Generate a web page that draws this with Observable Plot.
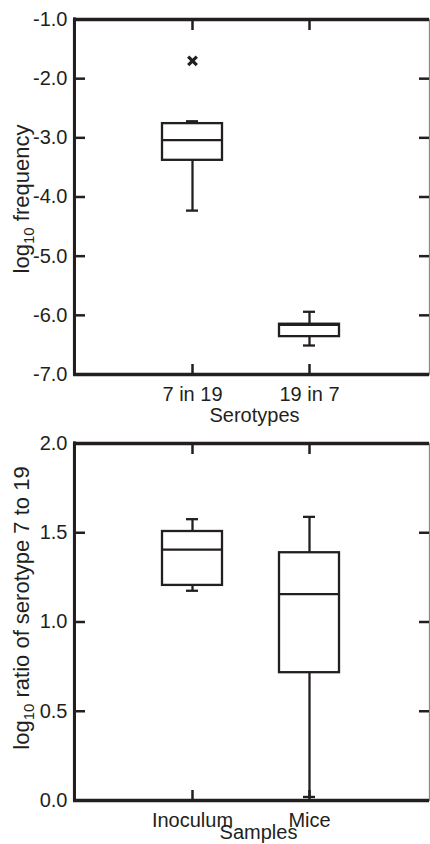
<!DOCTYPE html>
<html><head><meta charset="utf-8">
<script src="https://cdn.jsdelivr.net/npm/d3@7"></script>
<script src="https://cdn.jsdelivr.net/npm/@observablehq/plot@0.6"></script>
<style>
html,body{margin:0;padding:0;background:#fff;}
#wrap{position:relative;width:430px;height:844px;overflow:hidden;background:#fff;}
#wrap svg{position:absolute;left:0;}
</style></head><body><div id="wrap"></div>
<script>
// ---- Panel A: serotypes ----
const serotypes = ["7 in 19", "19 in 7"];
const serWhiskerLow = [-4.23, -6.51];
const serQ1 = [-3.38, -6.36];
const serMedian = [-3.04, -6.16];
const serQ3 = [-2.76, -6.15];
const serWhiskerHigh = [-2.72, -5.94];
const serOutlierCats = ["7 in 19"];
const serOutlierValues = [-1.70];
const serYDomain = [-7, -1];
const serYTicks = [-1, -2, -3, -4, -5, -6, -7];

// ---- Panel B: samples ----
const samples = ["Inoculum", "Mice"];
const smpWhiskerLow = [1.175, 0.02];
const smpQ1 = [1.205, 0.716];
const smpMedian = [1.405, 1.156];
const smpQ3 = [1.507, 1.388];
const smpWhiskerHigh = [1.576, 1.589];
const smpYDomain = [0, 2];
const smpYTicks = [0, 0.5, 1, 1.5, 2];

const INK = "#231f20";
const FONT = "'Liberation Sans', Arial, Helvetica, sans-serif";

function boxPanel(o) {
  const rows = o.cats.map((c, i) => ({cat: c, lo: o.lo[i], q1: o.q1[i], med: o.med[i], q3: o.q3[i], hi: o.hi[i]}));
  const outs = (o.outCats || []).map((c, i) => ({cat: c, v: o.outVals[i]}));
  const W = 430, ml = 73, mr = 1;
  const fw = W - ml - mr;
  const fh = o.height - o.marginTop - o.marginBottom;
  const lw = 2.3;
  const svg = Plot.plot({
    width: W, height: o.height,
    marginLeft: ml, marginRight: mr, marginTop: o.marginTop, marginBottom: o.marginBottom,
    style: {fontFamily: FONT, fontSize: "20px", color: INK, background: "transparent", overflow: "visible"},
    x: {type: "band", domain: o.cats, paddingInner: 0.487, paddingOuter: 0.752, align: 0.5, tickSize: 0, tickPadding: 12, label: null},
    y: {domain: o.yDomain, ticks: o.yTicks, tickSize: 0, tickPadding: 6, tickFormat: d => d.toFixed(1), label: null},
    marks: [
      Plot.frame({stroke: "#8a8a8a", strokeWidth: 1.3}),
      Plot.rect([o.yDomain], {y1: d => d[0], y2: d => d[1], insetRight: fw - 3, insetTop: -1.6, insetBottom: -1.6, fill: INK}),
      Plot.ruleY(o.yDomain, {y: d => d, stroke: INK, strokeWidth: 3.3}),
      Plot.tickY(o.yTicks, {y: d => d, stroke: INK, strokeWidth: 2.5, insetRight: fw - 12}),
      Plot.tickY(o.yTicks, {y: d => d, stroke: INK, strokeWidth: 2.5, insetLeft: fw - 10}),
      Plot.tickX(o.cats, {x: d => d, stroke: INK, strokeWidth: 2.5, insetBottom: fh - 11}),
      Plot.tickX(o.cats, {x: d => d, stroke: INK, strokeWidth: 2.5, insetTop: fh - 10}),
      Plot.ruleX(rows, {x: "cat", y1: "lo", y2: "q1", stroke: INK, strokeWidth: lw}),
      Plot.ruleX(rows, {x: "cat", y1: "q3", y2: "hi", stroke: INK, strokeWidth: lw}),
      Plot.tickY(rows, {x: "cat", y: "lo", insetLeft: 24, insetRight: 24, stroke: INK, strokeWidth: lw}),
      Plot.tickY(rows, {x: "cat", y: "hi", insetLeft: 24, insetRight: 24, stroke: INK, strokeWidth: lw}),
      Plot.barY(rows, {x: "cat", y1: "q1", y2: "q3", fill: "none", stroke: INK, strokeWidth: lw}),
      Plot.tickY(rows, {x: "cat", y: "med", stroke: INK, strokeWidth: lw}),
      Plot.dot(outs, {x: "cat", y: "v", symbol: "times", r: 4, stroke: INK, strokeWidth: 3.2}),
      Plot.text([o.xLabel], {text: d => d, frameAnchor: "bottom", lineAnchor: "bottom", dy: o.xLabelDy, dx: o.xLabelDx, fontSize: 20, fill: INK}),
      Plot.text([o.yLabel], {text: d => d, frameAnchor: "left", rotate: -90, textAnchor: "middle", lineAnchor: "bottom", dx: 28 - ml, dy: o.yLabelDy, fontSize: 22, fill: INK})
    ]
  });
  // subscript for log10
  svg.querySelectorAll("text").forEach(t => {
    const s = t.textContent;
    if (s.startsWith("log10")) {
      const rest = s.slice(5);
      const NS = "http://www.w3.org/2000/svg";
      while (t.firstChild) t.removeChild(t.firstChild);
      t.appendChild(document.createTextNode("log"));
      const sub = document.createElementNS(NS, "tspan");
      sub.setAttribute("font-size", "15");
      sub.setAttribute("dy", "5");
      sub.textContent = "10";
      t.appendChild(sub);
      const r = document.createElementNS(NS, "tspan");
      r.setAttribute("dy", "-5");
      r.textContent = rest;
      t.appendChild(r);
    }
  });
  svg.style.top = o.top + "px";
  return svg;
}

const wrap = document.getElementById("wrap");
wrap.appendChild(boxPanel({
  cats: serotypes, lo: serWhiskerLow, q1: serQ1, med: serMedian, q3: serQ3, hi: serWhiskerHigh,
  outCats: serOutlierCats, outVals: serOutlierValues,
  yDomain: serYDomain, yTicks: serYTicks,
  xLabel: "Serotypes", yLabel: "log10 frequency",
  height: 420, marginTop: 19, marginBottom: 46, xLabelDy: 47, xLabelDx: 3, yLabelDy: 2, top: 0
}));
wrap.appendChild(boxPanel({
  cats: samples, lo: smpWhiskerLow, q1: smpQ1, med: smpMedian, q3: smpQ3, hi: smpWhiskerHigh,
  yDomain: smpYDomain, yTicks: smpYTicks,
  xLabel: "Samples", yLabel: "log10 ratio of serotype 7 to 19",
  height: 424, marginTop: 23, marginBottom: 44, xLabelDy: 38.5, xLabelDx: 7, yLabelDy: -14, top: 420
}));
</script></body></html>
